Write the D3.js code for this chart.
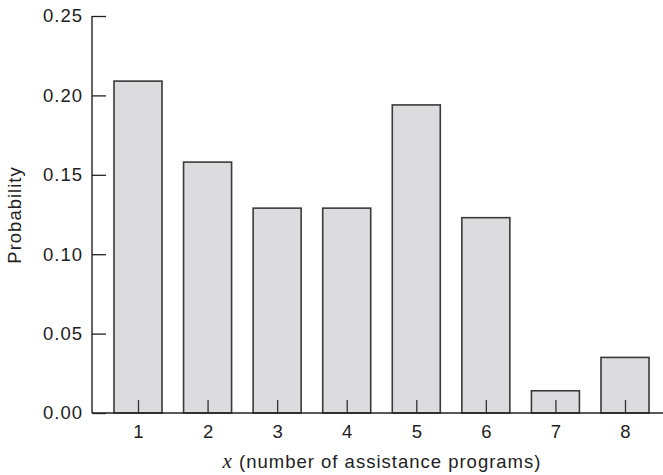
<!DOCTYPE html>
<html><head><meta charset="utf-8">
<script src="https://cdn.jsdelivr.net/npm/d3@7"></script>
<style>body{margin:0;background:#fff}svg{display:block}</style>
</head><body>
<svg id="c" width="663" height="475"></svg>
<script>
const categories = ["1","2","3","4","5","6","7","8"];
const probabilities = [0.209, 0.158, 0.129, 0.129, 0.194, 0.123, 0.014, 0.035];
const yTicks = [0, 0.05, 0.10, 0.15, 0.20, 0.25];

const svg = d3.select("#c");
const font = "'Liberation Sans', Arial, Helvetica, sans-serif";
const axisX = 92, baseY = 413, topY = 16;
const ls = "1px", fs = 18.5;

const y = d3.scaleLinear().domain([0, 0.25]).range([baseY, topY]);
const x = d3.scalePoint().domain(categories).range([138, 625]);
const bw = x.step() * 0.69;

// bars
svg.append("g").selectAll("rect").data(probabilities).join("rect")
  .attr("x", (d,i) => x(categories[i]) - bw/2)
  .attr("y", d => y(d))
  .attr("width", bw)
  .attr("height", d => baseY - y(d))
  .attr("fill", "#dcdcde")
  .attr("stroke", "#3a3a3a")
  .attr("stroke-width", 1.6);

// y axis
const yAxis = d3.axisRight(y).tickValues(yTicks).tickSize(14).tickFormat(d3.format(".2f"));
const gy = svg.append("g").attr("transform", `translate(${axisX},0)`).call(yAxis);
gy.select(".domain").remove();
gy.selectAll(".tick line").attr("stroke", "#222").attr("stroke-width", 1.3);
gy.selectAll(".tick text").attr("x", -9).attr("text-anchor", "end")
  .attr("font-family", font).attr("font-size", fs).attr("letter-spacing", ls).attr("fill", "#222");
svg.append("line").attr("x1", axisX).attr("x2", axisX).attr("y1", topY).attr("y2", baseY)
  .attr("stroke", "#222").attr("stroke-width", 1.4);

// x axis
const xAxis = d3.axisTop(x).tickSize(13).tickSizeOuter(0);
const gx = svg.append("g").attr("transform", `translate(0,${baseY})`).call(xAxis);
gx.select(".domain").remove();
gx.selectAll(".tick line").attr("stroke", "#333").attr("stroke-width", 1.3);
gx.selectAll(".tick text").attr("y", 24.5).attr("dy", 0).attr("dx", 0.5)
  .attr("font-family", font).attr("font-size", fs).attr("letter-spacing", ls).attr("fill", "#222");
svg.append("line").attr("x1", axisX).attr("x2", 663).attr("y1", baseY).attr("y2", baseY)
  .attr("stroke", "#222").attr("stroke-width", 1.4);

// axis titles
const xt = svg.append("text").attr("x", 382).attr("y", 467.5).attr("text-anchor", "middle")
  .attr("font-family", font).attr("font-size", fs).attr("letter-spacing", ls).attr("fill", "#222");
xt.append("tspan").attr("font-family", "'Liberation Serif', 'Times New Roman', serif").attr("font-style", "italic").attr("font-size", 21).text("x");
xt.append("tspan").text(" (number of assistance programs)");

svg.append("text").attr("transform", "translate(21,215) rotate(-90)").attr("text-anchor", "middle")
  .attr("font-family", font).attr("font-size", fs).attr("letter-spacing", ls).attr("fill", "#222").text("Probability");
</script>
</body></html>
